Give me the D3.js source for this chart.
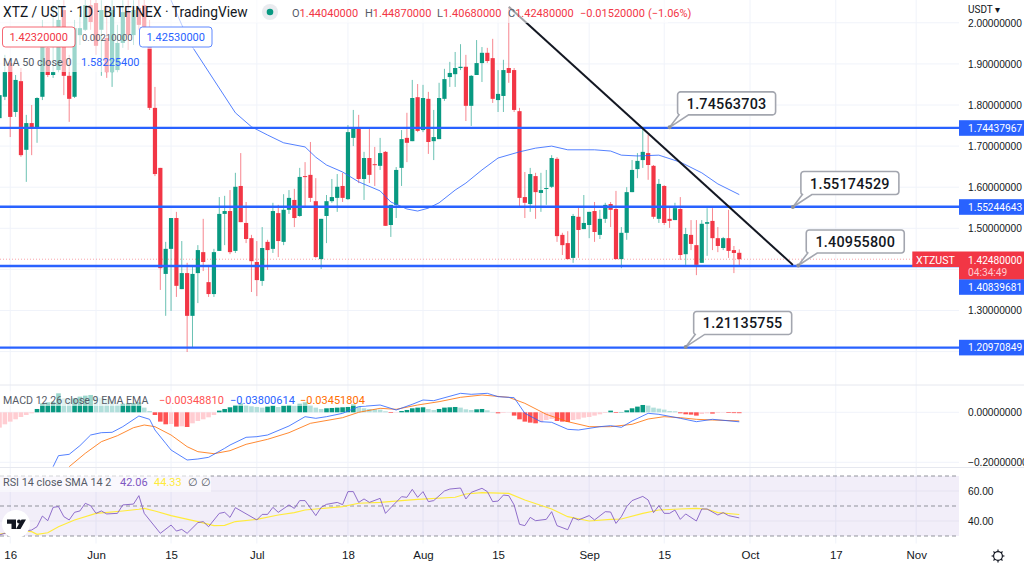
<!DOCTYPE html>
<html>
<head>
    <meta charset="UTF-8">
    <title>XTZ / UST 1D</title>
    <style>
        html, body {
            margin: 0;
            background-color: white;
            overflow: hidden;
        }
        svg {
            display: block;
            font-family: Roboto, Arial, sans-serif;
        }
        .axis text {
            fill: #131722;
            font-size: 10.2px;
        }
        .time text {
            font-size: 11.5px;
        }
        .axis path, .axis line {
            display: none;
        }
    </style>
</head>
<body>
    <svg id="chart" width="1024" height="568"></svg>

    <script src="https://d3js.org/d3.v7.min.js"></script>
    <script>
        // Candles are daily, the first one is May 14, the last one Sep 29
        var firstCandle = Date.UTC(2021, 4, 14);

        var opens = [
            1.768,1.820,1.902,1.783,1.858,1.691,1.756,1.742,1.820,1.939,
            1.873,1.885,2.031,1.871,1.820,1.970,1.983,2.043,2.048,1.983,
            1.963,1.880,1.885,1.951,2.026,1.970,2.036,2.043,1.990,1.793,
            1.647,1.389,1.450,1.525,1.352,1.391,1.287,1.391,1.442,1.369,
            1.340,1.445,1.535,1.542,1.445,1.603,1.513,1.476,1.418,1.372,
            1.467,1.450,1.537,1.467,1.545,1.569,1.530,1.627,1.630,1.566,
            1.425,1.530,1.566,1.574,1.603,1.571,1.720,1.744,1.620,1.671,
            1.656,1.652,1.686,1.508,1.557,1.647,1.720,1.712,1.819,1.739,
            1.815,1.712,1.717,1.815,1.868,1.875,1.890,1.893,1.798,1.873,
            1.902,1.927,1.914,1.812,1.822,1.890,1.885,1.785,1.576,1.559,
            1.627,1.586,1.596,1.601,1.669,1.484,1.464,1.428,1.528,1.498,
            1.508,1.542,1.484,1.523,1.559,1.547,1.425,1.489,1.588,1.644,
            1.666,1.683,1.652,1.523,1.603,1.523,1.520,1.547,1.437,1.484,
            1.459,1.416,1.511,1.518,1.476,1.452,1.476,1.447,1.4404
        ];
        var closes = [
            1.824,1.880,1.771,1.861,1.678,1.756,1.742,1.817,1.941,1.873,
            1.880,2.007,1.871,1.815,1.987,1.987,2.043,2.002,1.944,2.031,
            1.880,2.031,1.951,2.026,1.970,2.031,1.995,1.990,1.793,1.632,
            1.403,1.450,1.525,1.360,1.391,1.287,1.389,1.447,1.418,1.340,
            1.442,1.535,1.542,1.442,1.601,1.515,1.474,1.420,1.374,1.452,
            1.447,1.542,1.469,1.545,1.574,1.525,1.625,1.625,1.574,1.430,
            1.523,1.566,1.576,1.601,1.574,1.734,1.744,1.620,1.671,1.630,
            1.654,1.683,1.506,1.557,1.642,1.717,1.708,1.817,1.737,1.817,
            1.710,1.722,1.817,1.863,1.878,1.890,1.893,1.798,1.871,1.902,
            1.927,1.907,1.815,1.827,1.885,1.878,1.788,1.574,1.562,1.632,
            1.588,1.593,1.598,1.671,1.481,1.459,1.425,1.530,1.496,1.513,
            1.540,1.491,1.523,1.557,1.545,1.425,1.489,1.588,1.642,1.664,
            1.686,1.654,1.528,1.608,1.513,1.518,1.549,1.435,1.486,1.462,
            1.411,1.511,1.515,1.476,1.457,1.476,1.445,1.440,1.4248
        ];
        var highs = [
            1.849,1.922,1.910,1.873,1.890,1.776,1.800,1.819,2.007,1.983,
            2.043,2.043,2.055,1.922,2.007,2.019,2.068,2.068,2.068,2.055,
            2.043,2.055,1.995,2.055,2.055,2.055,2.063,2.063,2.007,1.844,
            1.647,1.467,1.525,1.540,1.469,1.416,1.406,1.459,1.523,1.411,
            1.450,1.576,1.579,1.593,1.635,1.683,1.564,1.484,1.469,1.503,
            1.472,1.562,1.557,1.583,1.593,1.596,1.647,1.661,1.710,1.622,
            1.523,1.581,1.620,1.632,1.635,1.751,1.788,1.776,1.686,1.742,
            1.698,1.720,1.688,1.557,1.649,1.739,1.781,1.861,1.851,1.849,
            1.832,1.788,1.854,1.888,1.905,1.929,1.948,1.922,1.873,1.958,
            1.941,1.939,1.961,1.885,1.910,2.038,1.890,1.793,1.637,1.647,
            1.635,1.635,1.642,1.678,1.673,1.489,1.493,1.535,1.550,1.581,
            1.540,1.564,1.545,1.562,1.564,1.591,1.503,1.600,1.666,1.683,
            1.744,1.727,1.654,1.620,1.605,1.552,1.562,1.576,1.501,1.520,
            1.520,1.520,1.549,1.549,1.503,1.479,1.545,1.457,1.4487
        ];
        var lows = [
            1.764,1.812,1.722,1.771,1.674,1.613,1.678,1.708,1.812,1.868,
            1.866,1.880,1.824,1.759,1.817,1.946,1.980,1.983,1.922,1.871,
            1.866,1.844,1.880,1.939,1.934,1.946,1.983,1.983,1.788,1.627,
            1.350,1.287,1.299,1.333,1.352,1.199,1.211,1.318,1.396,1.333,
            1.333,1.445,1.459,1.437,1.440,1.515,1.464,1.345,1.335,1.360,
            1.399,1.440,1.430,1.459,1.535,1.503,1.528,1.552,1.564,1.428,
            1.401,1.464,1.562,1.540,1.564,1.569,1.700,1.610,1.569,1.610,
            1.603,1.642,1.506,1.479,1.525,1.603,1.661,1.712,1.734,1.734,
            1.681,1.666,1.717,1.810,1.844,1.844,1.885,1.761,1.749,1.873,
            1.856,1.902,1.805,1.783,1.783,1.854,1.783,1.554,1.525,1.540,
            1.523,1.540,1.557,1.598,1.467,1.435,1.425,1.416,1.428,1.498,
            1.476,1.467,1.474,1.513,1.503,1.425,1.403,1.472,1.588,1.622,
            1.647,1.618,1.523,1.513,1.508,1.501,1.520,1.423,1.411,1.447,
            1.386,1.416,1.433,1.447,1.442,1.447,1.428,1.391,1.4068
        ];
        var macdHist = [
            -.0613,-.048,-.0373,-.028,-.0187,-.0107,-.004,.0133,.036,.04,
            .0427,.076,.056,.0533,.056,.0627,.0667,.0693,.0653,.0587,
            .0533,.0453,.032,.0347,.036,.0373,.04,.0187,.0053,-.0107,
            -.0373,-.048,-.0467,-.0573,-.056,-.0587,-.044,-.0347,-.028,-.02,
            -.0107,.0067,.0133,.02,.0293,.036,.0293,.024,.0213,.0187,
            .0227,.0267,.0213,.0267,.0293,.0267,.0347,.04,.0293,.0187,
            .0133,.016,.0173,.0187,.02,.0213,.032,.0227,.016,.0133,
            .012,.0107,.004,-.0027,-.0013,.0053,.0093,.016,.0187,.02,
            .0133,.0093,.0133,.0187,.02,.0213,.0187,.012,.0093,.012,
            .0133,.008,.0013,-.004,-.0027,-.0013,-.0133,-.028,-.0373,-.0413,
            -.044,-.04,-.0307,-.0267,-.0347,-.0373,-.0387,-.0307,-.028,-.0213,
            -.0187,-.0133,-.008,-.0027,.0067,-.0027,.0013,.008,.016,.0227,
            .0293,.0267,.0187,.0147,.0107,.0053,.004,-.004,-.008,-.0093,
            -.0133,-.0067,-.004,-.0053,-.0027,-.0013,-.0027,-.0032,-.0035
        ];

        // Line series are read at turning points, days are counted from Jun 1
        var maDays = [14,16,18,22,26,29,32,35,39,41,43,46,49,53,55,58,60,62,64,67,69,72,75,79,82,85,88,93,96,98,101,105,109,113,116,120];
        var maValues = [2.055,1.995,1.941,1.861,1.781,1.747,1.727,1.708,1.698,1.673,1.654,1.637,1.613,1.591,1.564,1.547,1.542,1.549,1.562,1.593,1.610,1.642,1.671,1.686,1.695,1.700,1.691,1.691,1.688,1.678,1.676,1.678,1.661,1.635,1.608,1.582];

        var macdDays = [-8,-7,-5,-3,-1,1,3,5,8,10,11,13,14,17,19,21,24,25,28,30,32,36,39,41,43,46,49,53,56,59,61,63,68,70,73,75,78,80,83,85,88,90,94,96,98,100,103,105,109,112,115,120];
        var macdValues = [-.2175,-.1735,-.1681,-.1335,-.0908,-.0815,-.0801,-.0575,-.0148,-.0281,-.0708,-.1241,-.1508,-.1908,-.1868,-.1801,-.1441,-.1308,-.1001,-.0975,-.0908,-.0548,-.0175,-.0241,-.0175,-.0041,.0225,.0292,.0092,.0319,.0492,.0465,.0759,.0719,.0759,.0625,.0585,-.0041,-.0375,-.0401,-.0681,-.0708,-.0575,-.0535,-.0601,-.0348,-.0041,-.0081,-.0241,-.0375,-.0281,-.0380];

        var signalDays = [-5,-2,1,4,7,9,11,14,17,19,22,25,28,32,36,40,46,49,53,56,60,64,68,72,77,80,84,88,92,96,100,103,106,109,112,115,120];
        var signalValues = [-.2175,-.1641,-.1175,-.0935,-.0615,-.0508,-.0575,-.0908,-.1375,-.1575,-.1655,-.1535,-.1281,-.1081,-.0815,-.0441,-.0215,-.0001,.0159,.0119,.0292,.0425,.0599,.0692,.0599,.0359,-.0081,-.0375,-.0575,-.0575,-.0481,-.0268,-.0175,-.0215,-.0281,-.0308,-.0345];

        var rsiDays = [-18,-16,-14,-12,-11,-10,-9,-8,-7,-6,-5,-4,-3,-2,-1,0,1,2,4,5,7,8,9,12,14,15,16,17,19,20,21,23,24,25,26,30,31,32,33,34,36,37,38,39,41,42,43,45,46,47,48,49,50,51,53,54,55,57,58,59,60,61,62,63,65,66,68,69,70,72,73,74,75,76,77,78,79,80,81,82,84,85,86,88,89,90,92,93,95,96,97,98,99,100,102,103,104,105,106,107,108,109,110,112,113,114,116,117,118,120];
        var rsiValues = [30.7,32.9,32.9,34,36.2,43.3,40.2,49.1,49.6,42.9,40.7,45.8,46.7,51.8,50.2,45.1,46.7,44.7,45.1,50.7,51.3,56.9,45.1,31.8,37.3,33.3,34.4,31.8,38.9,39.6,36.2,45.1,45.8,42.4,48.9,40.7,44.4,44.4,49.1,45.8,50.7,48.4,53.6,53.6,43.6,49.1,51.1,52.4,50.9,59.6,59.6,52.4,54.7,52.4,55.1,45.1,48.9,56.2,55.8,61.1,55.8,59.6,52.9,53.6,60,61.3,62,54.7,59.1,61.8,59.6,52.9,53.3,57.3,56.9,50.7,37.8,36.9,42.4,40.2,41.1,46.2,36.9,34.2,42.2,40.7,43.6,40.7,46.2,46,38.4,42.9,49.6,53.6,56.4,54,45.6,50.2,45.1,45.1,47.3,41.1,44.7,40,48,48,44,45.6,43.6,42.06];

        var smaDays = [-18,-14,-12,-11,-9,-7,-4,0,5,8,9,11,14,19,22,24,26,30,34,37,39,46,49,53,57,60,67,69,72,77,80,85,88,92,96,98,102,105,109,112,114,116,120];
        var smaValues = [31.3,33.6,32.9,31.1,32.2,36.2,40.7,45.1,46.7,47.8,48.4,46.7,43.6,39.6,36.9,37.1,39.6,41.1,44,45.6,47.3,49.6,51.8,52.4,53.6,54.4,55.8,58,58.9,58.4,54,48,42.9,40,41.1,41.3,45.1,47.3,48,48.4,47.8,45.6,44.33];

        // Drawn on the chart
        var levelPrices = [1.74437967, 1.55244643, 1.40839681, 1.20970849];
        var levelLabels = ["1.74437967", "1.55244643", "1.40839681", "1.20970849"];
        var calloutDays = [107, 130, 131, 110];
        var calloutPrices = [1.74563703, 1.55174529, 1.40955800, 1.21135755];
        var trendDays = [77, 130];
        var trendPrices = [2.039, 1.411];
        var lastPrice = 1.4248;

        // Axes
        var priceTicks = [2.0, 1.9, 1.8, 1.7, 1.6, 1.5, 1.3];
        var priceGrid = [2.0, 1.9, 1.8, 1.7, 1.6, 1.5, 1.4, 1.3, 1.2];
        var macdTicks = [0, -0.2];
        var rsiTicks = [60, 40];
        var timeDays = [-16, 0, 14, 30, 47, 61, 75, 92, 106, 122, 138, 153];
        var timeLabels = ["16", "Jun", "15", "Jul", "18", "Aug", "15", "Sep", "15", "Oct", "17", "Nov"];

        var red = "#f23645", green = "#089981", blue = "#2962ff", orange = "#ff6d00";
        var paneRight = 959;
        var svg = d3.select("#chart");

        function dayToDate(d) {
            return d3.utcDay.offset(new Date(Date.UTC(2021, 5, 1)), d);
        }

        var candleDates = opens.map(function(_, i) {
            return d3.utcDay.offset(new Date(firstCandle), i);
        });

        var x = d3.scaleUtc()
            .domain([dayToDate(0), dayToDate(122)])
            .range([96, 750]);
        var y = d3.scaleLinear().domain([1.8, 1.3]).range([105, 310.5]);
        var yMacd = d3.scaleLinear().domain([0, -0.2]).range([412.3, 462.3]);
        var yRsi = d3.scaleLinear().domain([70, 30]).range([476, 536]);

        // Clips for the panes
        var defs = svg.append("defs");
        function addClip(id, top, bottom) {
            defs.append("clipPath").attr("id", id).append("rect")
                .attr("x", 0).attr("y", top)
                .attr("width", paneRight).attr("height", bottom - top);
        }
        addClip("mainClip", 0, 384);
        addClip("macdClip", 386, 467);
        addClip("rsiClip", 468, 543);

        // Vertical and horizontal grid
        var grid = svg.append("g").attr("stroke", "#f0f3fa").attr("stroke-width", 1);
        grid.selectAll("line.v").data(timeDays).enter().append("line")
            .attr("x1", function(d) { return x(dayToDate(d)); })
            .attr("x2", function(d) { return x(dayToDate(d)); })
            .attr("y1", 0).attr("y2", 543.5);
        grid.selectAll("line.p").data(priceGrid).enter().append("line")
            .attr("x1", 0).attr("x2", paneRight)
            .attr("y1", function(d) { return y(d); })
            .attr("y2", function(d) { return y(d); });
        grid.selectAll("line.m").data(macdTicks).enter().append("line")
            .attr("x1", 0).attr("x2", paneRight)
            .attr("y1", function(d) { return yMacd(d); })
            .attr("y2", function(d) { return yMacd(d); });

        // Pane separators
        svg.append("line").attr("x1", 0).attr("x2", 1024).attr("y1", 385).attr("y2", 385)
            .attr("stroke", "#e6e8ef");
        svg.append("line").attr("x1", 0).attr("x2", 1024).attr("y1", 467.5).attr("y2", 467.5)
            .attr("stroke", "#e6e8ef");

        // Candles
        var candles = svg.append("g").attr("clip-path", "url(#mainClip)");
        var candle = candles.selectAll("g").data(opens).enter().append("g");
        candle.append("line")
            .attr("x1", function(d, i) { return x(candleDates[i]); })
            .attr("x2", function(d, i) { return x(candleDates[i]); })
            .attr("y1", function(d, i) { return y(highs[i]); })
            .attr("y2", function(d, i) { return y(lows[i]); })
            .attr("stroke", function(d, i) { return closes[i] >= d ? green : red; })
            .attr("stroke-opacity", 0.6);
        candle.append("rect")
            .attr("x", function(d, i) { return x(candleDates[i]) - 2.1; })
            .attr("width", 4.2)
            .attr("y", function(d, i) { return y(Math.max(d, closes[i])); })
            .attr("height", function(d, i) { return Math.max(1, Math.abs(y(d) - y(closes[i]))); })
            .attr("fill", function(d, i) { return closes[i] >= d ? green : red; });

        // Moving average
        var priceLine = d3.line()
            .x(function(d, i) { return x(dayToDate(maDays[i])); })
            .y(function(d) { return y(d); });
        candles.append("path").datum(maValues)
            .attr("d", priceLine)
            .attr("fill", "none").attr("stroke", blue)
            .attr("stroke-opacity", 0.8).attr("stroke-width", 1);

        // Last price dotted line
        svg.append("line")
            .attr("x1", 0).attr("x2", paneRight)
            .attr("y1", y(lastPrice)).attr("y2", y(lastPrice))
            .attr("stroke", red).attr("stroke-opacity", 0.45)
            .attr("stroke-dasharray", "1 2");

        // Horizontal levels
        svg.append("g").selectAll("line").data(levelPrices).enter().append("line")
            .attr("x1", 0).attr("x2", paneRight)
            .attr("y1", function(d) { return y(d); })
            .attr("y2", function(d) { return y(d); })
            .attr("stroke", blue).attr("stroke-width", 2.4);

        // Trend line
        svg.append("line")
            .attr("x1", x(dayToDate(trendDays[0]))).attr("y1", y(trendPrices[0]))
            .attr("x2", x(dayToDate(trendDays[1]))).attr("y2", y(trendPrices[1]))
            .attr("stroke", "#131722").attr("stroke-width", 2);

        // Callouts with a tail pointing at the level
        function calloutPath() {
            return "M8,-15.5 V-32.5 a3,3 0 0 1 3,-3 H103 a3,3 0 0 1 3,3 V-15.5 a3,3 0 0 1 -3,3 H19 L0,0 L9.5,-12.5 a3,3 0 0 1 -1.5,-3 Z";
        }
        var callout = svg.append("g").selectAll("g").data(calloutPrices).enter().append("g")
            .attr("transform", function(d, i) {
                return "translate(" + x(dayToDate(calloutDays[i])) + "," + y(d) + ")";
            });
        callout.append("path")
            .attr("d", calloutPath())
            .attr("fill", "white").attr("stroke", "#a3a6af").attr("stroke-width", 1.6);
        callout.append("circle").attr("r", 2).attr("fill", "#8d9099");
        callout.append("text")
            .attr("x", 57).attr("y", -18.5)
            .attr("text-anchor", "middle")
            .attr("fill", "#131722")
            .attr("font-size", 14.4).attr("font-weight", 500)
            .attr("letter-spacing", 0.2)
            .text(function(d) { return d.toFixed(8); });

        // MACD pane
        var macdPane = svg.append("g").attr("clip-path", "url(#macdClip)");
        macdPane.selectAll("rect").data(macdHist).enter().append("rect")
            .attr("x", function(d, i) { return x(candleDates[i]) - 2.3; })
            .attr("width", 4.6)
            .attr("y", function(d) { return Math.min(yMacd(0), yMacd(d)); })
            .attr("height", function(d) { return Math.abs(yMacd(d) - yMacd(0)); })
            .attr("fill", function(d, i) {
                var prev = i > 0 ? macdHist[i - 1] : d;
                if (d >= 0) return d >= prev ? "#089981" : "#b2dfdb";
                return d < prev ? "#ff5252" : "#ffcdd2";
            });

        function paneLine(days, scale) {
            return d3.line()
                .x(function(d, i) { return x(dayToDate(days[i])); })
                .y(function(d) { return scale(d); });
        }
        macdPane.append("path").datum(signalValues)
            .attr("d", paneLine(signalDays, yMacd))
            .attr("fill", "none").attr("stroke", orange).attr("stroke-opacity", 0.8);
        macdPane.append("path").datum(macdValues)
            .attr("d", paneLine(macdDays, yMacd))
            .attr("fill", "none").attr("stroke", blue).attr("stroke-opacity", 0.8);

        // RSI pane
        svg.append("rect")
            .attr("x", 0).attr("width", paneRight)
            .attr("y", yRsi(70)).attr("height", yRsi(30) - yRsi(70))
            .attr("fill", "#7e57c2").attr("fill-opacity", 0.1);
        svg.append("g").selectAll("line").data(rsiTicks).enter().append("line")
            .attr("x1", 0).attr("x2", paneRight)
            .attr("y1", function(d) { return yRsi(d); })
            .attr("y2", function(d) { return yRsi(d); })
            .attr("stroke", "#e6e3f0");
        svg.append("g").selectAll("line").data([70, 50, 30]).enter().append("line")
            .attr("x1", 0).attr("x2", paneRight)
            .attr("y1", function(d) { return yRsi(d); })
            .attr("y2", function(d) { return yRsi(d); })
            .attr("stroke", "#787b86").attr("stroke-opacity", 0.8)
            .attr("stroke-dasharray", "4 3");
        var rsiPane = svg.append("g").attr("clip-path", "url(#rsiClip)");
        rsiPane.append("path").datum(smaValues)
            .attr("d", paneLine(smaDays, yRsi))
            .attr("fill", "none").attr("stroke", "#ffeb3b").attr("stroke-width", 1.1);
        rsiPane.append("path").datum(rsiValues)
            .attr("d", paneLine(rsiDays, yRsi))
            .attr("fill", "none").attr("stroke", "#7e57c2").attr("stroke-width", 1)
            .attr("stroke-opacity", 0.85);

        // Legend backgrounds fade whatever sits behind the text
        function legendBack(bx, by, w, h) {
            svg.append("rect")
                .attr("x", bx).attr("y", by).attr("width", w).attr("height", h)
                .attr("fill", "white").attr("fill-opacity", 0.6);
        }
        legendBack(0, 0, 668, 23);
        legendBack(0, 23, 214, 26);
        legendBack(0, 49, 142, 23);
        legendBack(0, 391, 366, 15);
        legendBack(0, 474, 211, 18);

        function label(tx, ty, str, color, size, anchor) {
            return svg.append("text")
                .attr("x", tx).attr("y", ty)
                .attr("fill", color)
                .attr("font-size", size || 11)
                .attr("text-anchor", anchor || "start")
                .text(str);
        }

        // Header
        label(3, 17, "XTZ / UST · 1D · BITFINEX · TradingView", "#131722", 13.8);
        svg.append("circle").attr("cx", 270).attr("cy", 12).attr("r", 8).attr("fill", "#e9ebef");
        svg.append("circle").attr("cx", 270).attr("cy", 12).attr("r", 3.3).attr("fill", green);
        var ohlcX = [292, 365, 437, 508];
        var ohlcNames = ["O", "H", "L", "C"];
        var ohlcValues = ["1.44040000", "1.44870000", "1.40680000", "1.42480000"];
        ohlcNames.forEach(function(n, i) {
            var t = label(ohlcX[i], 17, n, "#555a66");
            t.append("tspan").attr("fill", red).text(ohlcValues[i]);
        });
        label(580, 17, "−0.01520000", red);
        label(648, 17, "(−1.06%)", red);

        // Crosshair values under the header
        function valueBox(bx, str, color) {
            svg.append("rect")
                .attr("x", bx).attr("y", 27).attr("width", 72.5).attr("height", 20).attr("rx", 3)
                .attr("fill", "white").attr("stroke", color).attr("stroke-opacity", 0.75);
            label(bx + 36.2, 41, str, color, 11, "middle");
        }
        valueBox(2.5, "1.42320000", red);
        label(82, 41, "0.00210000", "#555a66", 9.5);
        valueBox(139.5, "1.42530000", blue);
        label(3, 66, "MA 50 close 0", "#555a66", 10.8);
        label(81, 66, "1.58225400", blue);

        // Indicator legends
        label(3, 404, "MACD 12 26 close 9 EMA EMA", "#555a66", 10.6);
        label(159, 404, "−0.00348810", "#ff5252");
        label(230, 404, "−0.03800614", blue);
        label(300, 404, "−0.03451804", orange);
        label(3, 486, "RSI 14 close SMA 14 2", "#555a66", 10.8);
        label(120, 486, "42.06", "#7e57c2");
        label(154, 486, "44.33", "#ffeb3b");
        label(188, 486, "∅", "#555a66");
        label(201, 486, "∅", "#555a66");

        // TradingView logo
        var logo = svg.append("g").attr("transform", "translate(16,524)");
        logo.append("circle").attr("r", 14).attr("fill", "white");
        logo.append("path").attr("d", "M-9,-4.5 h9 v9.5 h-4.5 v-5.2 h-4.5 z M10,-4.5 l-5.5,9.5 h-4.5 l5.5,-9.5 z").attr("fill", "#131722");
        logo.append("circle").attr("cx", 3).attr("cy", -2.5).attr("r", 2).attr("fill", "#131722");

        // Right axes
        function rightAxis(scale, ticks, format) {
            svg.append("g").attr("class", "axis")
                .attr("transform", "translate(" + paneRight + ",0)")
                .call(d3.axisRight(scale).tickValues(ticks).tickSize(0).tickPadding(9).tickFormat(format));
        }
        function fmtPrice(d) { return d3.format(".8f")(d).replace("-", "−"); }
        rightAxis(y, priceTicks, fmtPrice);
        rightAxis(yMacd, macdTicks, fmtPrice);
        rightAxis(yRsi, rsiTicks, d3.format(".2f"));
        label(968, 13, "USDT ▾", "#131722", 10);

        // Time axis
        svg.append("g").attr("class", "axis time")
            .attr("transform", "translate(0,551)")
            .call(d3.axisBottom(x)
                .tickValues(timeDays.map(dayToDate))
                .tickSize(0).tickPadding(0)
                .tickFormat(function(d, i) { return timeLabels[i]; }));

        // Price labels on the axis
        var levelLabelY = [128, 207, 287, 347.6];
        levelLabels.forEach(function(s, i) {
            svg.append("rect")
                .attr("x", paneRight).attr("width", 65)
                .attr("y", levelLabelY[i] - 7.8).attr("height", 15.6)
                .attr("fill", blue);
            label(968, levelLabelY[i] + 3.8, s, "white", 10.2);
        });
        svg.append("rect")
            .attr("x", 912.3).attr("y", 251.5).attr("width", 46.7).attr("height", 15.5)
            .attr("fill", red);
        label(916, 263.5, "XTZUST", "white", 10.6);
        svg.append("rect")
            .attr("x", paneRight).attr("y", 251.5).attr("width", 65).attr("height", 27.8)
            .attr("fill", red);
        label(968, 263.5, "1.42480000", "white", 10.2);
        label(968, 276, "04:34:49", "#ffc9cd", 10.2);

        // Settings gear
        var gear = svg.append("g").attr("transform", "translate(998,556)")
            .attr("stroke", "#131722").attr("stroke-width", 1.2).attr("fill", "none");
        gear.append("circle").attr("r", 4.4);
        gear.selectAll("line").data(d3.range(8)).enter().append("line")
            .attr("x1", function(d) { return 4.4 * Math.cos(d * Math.PI / 4); })
            .attr("y1", function(d) { return 4.4 * Math.sin(d * Math.PI / 4); })
            .attr("x2", function(d) { return 6.4 * Math.cos(d * Math.PI / 4); })
            .attr("y2", function(d) { return 6.4 * Math.sin(d * Math.PI / 4); });
    </script>
</body>
</html>
